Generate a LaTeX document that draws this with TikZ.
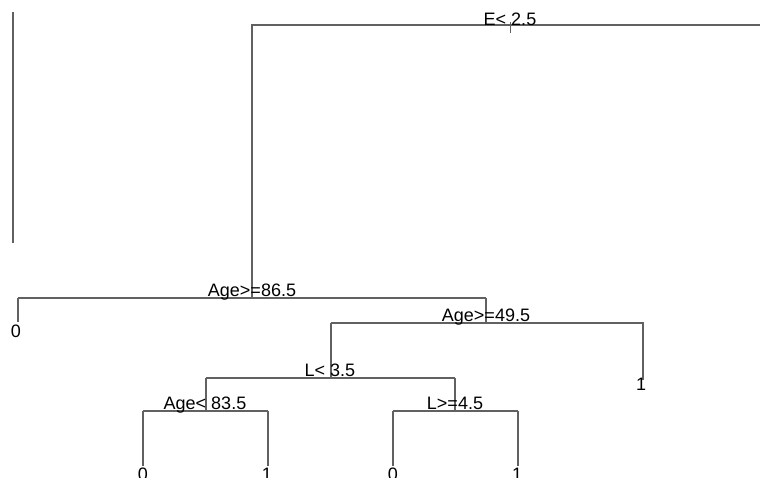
\documentclass[tikz,border=0pt]{standalone}
\usepackage{fontspec}
\setmainfont{Liberation Sans}
\begin{document}
\begin{tikzpicture}[x=1pt,y=-1pt,
  edge/.style={draw=black!62,line width=1.3pt},
  lbl/.style={anchor=base,inner sep=0pt,font=\fontsize{18}{20}\selectfont},
  leaf/.style={anchor=north,inner sep=0pt,font=\fontsize{18}{20}\selectfont}]
\useasboundingbox (0,0) rectangle (760,477);
% stray line on the left
\coordinate (s1) at (13,12);
\coordinate (s2) at (13,243);
\draw[edge] (s1) -- (s2);
% split points
\coordinate (root) at (510,25);
\coordinate (rootL) at (252,25);
\coordinate (rootR) at (760,25);
\coordinate (n2) at (252,298);
\coordinate (n2L) at (18,298);
\coordinate (n2R) at (486,298);
\coordinate (l0a) at (18,322);
\coordinate (n3) at (486,323);
\coordinate (n3L) at (331,323);
\coordinate (n3R) at (643,323);
\coordinate (l1a) at (643,380);
\coordinate (n4) at (331,378);
\coordinate (n4L) at (206,378);
\coordinate (n4R) at (455,378);
\coordinate (n5) at (206,411);
\coordinate (n5L) at (143,411);
\coordinate (n5R) at (268,411);
\coordinate (n6) at (455,411);
\coordinate (n6L) at (393,411);
\coordinate (n6R) at (518,411);
\coordinate (lb1) at (143,466);
\coordinate (lb2) at (268,466);
\coordinate (lb3) at (393,466);
\coordinate (lb4) at (518,466);
% edges
\draw[edge] (rootR) -- (rootL) -- (n2);
\draw[edge] (n2L) -- (n2R);
\draw[edge] (n2L) -- (l0a);
\draw[edge] (n2R) -- (n3);
\draw[edge] (n3L) -- (n3R) -- (l1a);
\draw[edge] (n3L) -- (n4);
\draw[edge] (n4L) -- (n4R);
\draw[edge] (n4L) -- (n5);
\draw[edge] (n4R) -- (n6);
\draw[edge] (n5L) -- (n5R);
\draw[edge] (n5L) -- (lb1);
\draw[edge] (n5R) -- (lb2);
\draw[edge] (n6L) -- (n6R);
\draw[edge] (n6L) -- (lb3);
\draw[edge] (n6R) -- (lb4);
% root tick
\coordinate (t1) at (510,22);
\coordinate (t2) at (510,33);
\draw[edge,line width=1pt] (t1) -- (t2);
% labels
\node[lbl] (tE) at (510,25) {E< 2.5};
\node[lbl] (tA1) at (252,296) {Age>=86.5};
\node[lbl] (tA2) at (486,321) {Age>=49.5};
\node[lbl] (tL1) at (330,376.5) {L< 3.5};
\node[lbl] (tA3) at (205,409) {Age< 83.5};
\node[lbl] (tL2) at (455,409) {L>=4.5};
\node[leaf] (v0a) at (16,325) {0};
\node[leaf] (v1a) at (641,378) {1};
\node[leaf] (v0b) at (143,468) {0};
\node[leaf] (v1b) at (267,468) {1};
\node[leaf] (v0c) at (393,468) {0};
\node[leaf] (v1c) at (517,468) {1};
\end{tikzpicture}
\end{document}
